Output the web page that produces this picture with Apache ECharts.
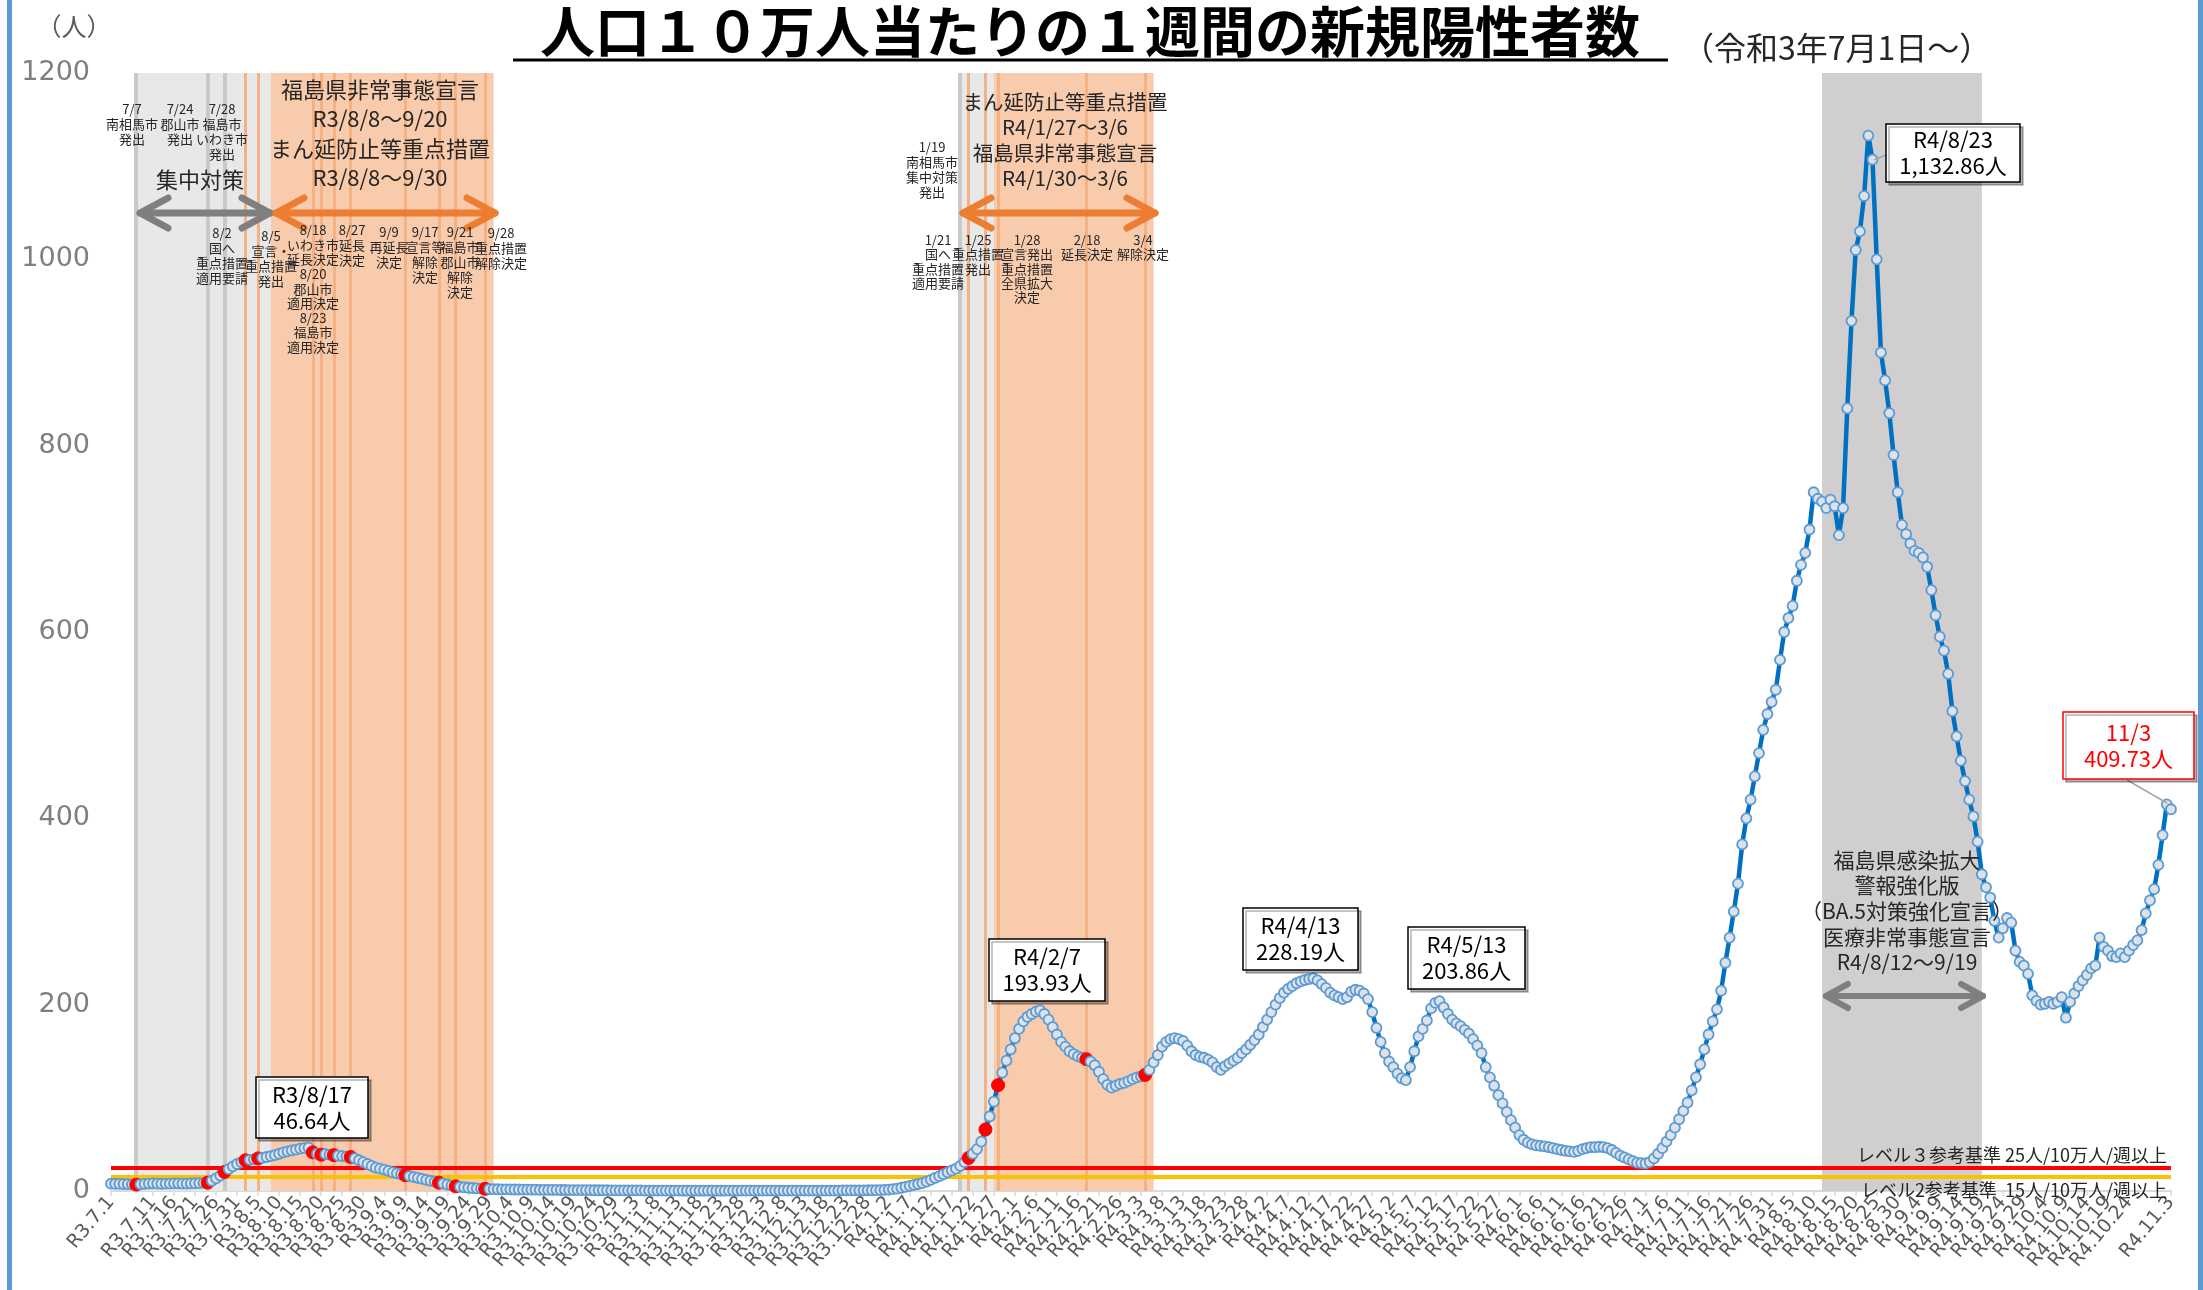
<!DOCTYPE html>
<html>
<head>
<meta charset="utf-8">
<script src="https://cdn.jsdelivr.net/npm/echarts@6/dist/echarts.min.js"></script>
<style>
html,body{margin:0;padding:0;background:#fff}
#main{width:2203px;height:1290px}
</style>
</head>
<body>
<div id="main"></div>
<script>
// 1週間の人口10万人当たり新規陽性者数（日別）
var v2107 = [7.9,7.8,7.6,7.5,7.3,7.1,6.9,7.2,7.6,8.0,8.1,8.0,7.8,7.9,8.0,8.2,8.1,8.0,7.9,8.1,8.3,8.5,8.8,9.0,11.0,13.5,16.5,20.4,23.5,26.5,29.0];
var v2108 = [31.0,33.0,33.5,34.0,35.0,35.5,36.5,37.5,38.5,40.0,41.5,42.5,43.5,44.5,45.5,46.0,46.64,41.5,40.0,39.0,39.5,39.0,38.5,38.0,37.5,37.0,36.5,35.0,33.0,31.0,29.0];
var v2109 = [27,25,24,23,21.5,20,19,18,17,16,15,14,13,12,11,10,9,8,7,6,5,4.5,4,3.5,3.2,2.9,2.6,2.3,2.1,2.0];
var v2110 = [1.9,1.8,1.8,1.7,1.6,1.6,1.5,1.5,1.4,1.4,1.3,1.3,1.2,1.2,1.2,1.1,1.1,1.0,1.0,1.0,0.9,0.9,0.9,0.8,0.8,0.8,0.8,0.7,0.7,0.7,0.7];
var v2111 = [0.7,0.6,0.6,0.6,0.5,0.5,0.5,0.5,0.4,0.4,0.4,0.4,0.4,0.3,0.3,0.3,0.3,0.3,0.3,0.3,0.3,0.3,0.3,0.3,0.4,0.4,0.4,0.4,0.4,0.4];
var v2112 = [0.4,0.4,0.4,0.5,0.5,0.5,0.5,0.5,0.5,0.5,0.4,0.4,0.4,0.4,0.4,0.4,0.5,0.5,0.5,0.5,0.5,0.6,0.6,0.6,0.6,0.7,0.7,0.8,0.8,0.9,1.0];
var v2201 = [1.2,1.5,2.0,2.5,3.5,4.5,5.5,6.5,7.5,8.5,10,12,14,16,18,20,22,24,27,31,35.5,40,45,53,66,80,96,113.6,127,140,152];
var v2202 = [164,174,182,187,190,192.5,193.93,190,184,176,168,160,155,150,147,144.5,143,141.5,139,135,128,120,114,111,113,115,116,118];
var v2203 = [120,122,123,124.6,130,138,146,155,160,163,164,163,161,156,150,146,144,143,141,138,133,130,134,137,140,143,148,152,157,162,168];
var v2204 = [176,184,192,200,207,213,217,220,223,225,226.5,227.5,228.19,226,222,218,213,210,208,206,208,214,216,215,212,206,192,175,160,148];
var v2205 = [139,133,126,121,119,133,150,166,174,183,196,202,203.86,197,190,184,180,177,173,169,163,156,148,133,122,113,103,94,85,76,68];
var v2206 = [60,55,52,50,49,48.5,48,47,46,45,44,43,42.5,42,43,45,46,47,47,47.5,47,46,44,41,38,36,34,32,30.5,30];
var v2207 = [29.5,31,35,40,46,53,60,68,77,86,95,108,122,136,152,168,182,195,215,245,272,300,330,372,400,420,445,470,495,512,525];
var v2208 = [538,570,600,615,628,655,672,685,710,750,743,740,733,742,735,704,733,840,934,1010,1030,1068,1132.86,1107,1000,900,870,835,790,750,715];
var v2209 = [705,695,687,685,680,670,645,618,595,580,555,515,488,462,440,420,402,375,340,326,315,290,272,282,293,288,258,246,242,233];
var v2210 = [210,204,200,201,203,201,203,208,186,203,212,220,226,232,239,242,272,262,258,252,251,255,251,258,264,269,280,298,312,324,350];
var v2211 = [382,415,409.73];

var months = [
  ['R3',7,v2107],['R3',8,v2108],['R3',9,v2109],['R3',10,v2110],['R3',11,v2111],['R3',12,v2112],
  ['R4',1,v2201],['R4',2,v2202],['R4',3,v2203],['R4',4,v2204],['R4',5,v2205],['R4',6,v2206],
  ['R4',7,v2207],['R4',8,v2208],['R4',9,v2209],['R4',10,v2210],['R4',11,v2211]
];

// 対策の発出・決定日（赤い点）
var eventDays = ['R3.7.7','R3.7.24','R3.7.28','R3.8.2','R3.8.5','R3.8.18','R3.8.20','R3.8.23','R3.8.27',
  'R3.9.9','R3.9.17','R3.9.21','R3.9.28','R4.1.21','R4.1.25','R4.1.28','R4.2.18','R4.3.4'];
var grayLines = ['R3.7.7','R3.7.24','R3.7.28','R4.1.19'];
var orangeLines = ['R3.8.2','R3.8.5','R3.8.18','R3.8.20','R3.8.23','R3.8.27','R3.9.9','R3.9.17','R3.9.21','R3.9.28',
  'R4.1.21','R4.1.25','R4.1.28','R4.2.18','R4.3.4'];
var bands = [
  ['R3.7.7','R3.8.8','#e8e8e8'],
  ['R3.8.8','R3.9.30','#f8cbad'],
  ['R4.1.19','R4.1.27','#e8e8e8'],
  ['R4.1.27','R4.3.6','#f8cbad'],
  ['R4.8.12','R4.9.19','#d0cece']
];

var cats = [], vals = [];
months.forEach(function(m){
  for (var d = 1; d <= m[2].length; d++) {
    cats.push(m[0] + '.' + m[1] + '.' + d);
    vals.push(m[2][d-1]);
  }
});

var lineData = cats.map(function(c, i){
  if (eventDays.indexOf(c) >= 0) {
    return {value: vals[i], symbolSize: 13, itemStyle: {color: '#ff0000', borderColor: '#ff0000', borderWidth: 1}};
  }
  return vals[i];
});

var JP = '"Noto Sans CJK JP", sans-serif';

function txt(x, y, s, size, lh, color, weight) {
  return {
    type: 'text', x: x, y: y, z: 100, silent: true,
    style: {
      text: s, fill: color || '#262626', fontSize: size, fontFamily: JP, fontWeight: weight || 'normal',
      lineHeight: lh, align: 'center', textAlign: 'center', verticalAlign: 'top', textVerticalAlign: 'top'
    }
  };
}
function arrow(x1, x2, y, color, lw, dx, dy) {
  var st = {stroke: color, lineWidth: lw, lineCap: 'round', lineJoin: 'round', fill: null};
  return {
    type: 'group', z: 100, silent: true,
    children: [
      {type: 'polyline', z: 100, shape: {points: [[x1, y], [x2, y]]}, style: st},
      {type: 'polyline', z: 100, shape: {points: [[x1 + dx, y - dy], [x1, y], [x1 + dx, y + dy]]}, style: st},
      {type: 'polyline', z: 100, shape: {points: [[x2 - dx, y - dy], [x2, y], [x2 - dx, y + dy]]}, style: st}
    ]
  };
}
function box(x, y, w, h, s, color) {
  color = color || '#000';
  return {
    type: 'group', z: 110, silent: true,
    children: [
      {type: 'rect', z: 110, shape: {x: x, y: y, width: w, height: h},
        style: {fill: '#fff', stroke: color, lineWidth: 1.5, shadowBlur: 0, shadowOffsetX: 3, shadowOffsetY: 3, shadowColor: 'rgba(0,0,0,0.3)'}},
      {type: 'text', z: 111, x: x + w / 2, y: y + h / 2,
        style: {text: s, fill: color, fontSize: 22, fontFamily: JP, lineHeight: 26,
          align: 'center', textAlign: 'center', verticalAlign: 'middle', textVerticalAlign: 'middle'}}
    ]
  };
}

var chart = echarts.init(document.getElementById('main'));
var option = {
  animation: false,
  backgroundColor: '#fff',
  grid: {left: 111, right: 32, top: 73, bottom: 99, outerBoundsMode: 'none'},
  xAxis: {
    type: 'category',
    data: cats,
    boundaryGap: false,
    axisLine: {lineStyle: {color: '#d9d9d9', width: 2}},
    axisTick: {show: true, interval: 4, length: 5, lineStyle: {color: '#d9d9d9', width: 1.5}},
    axisLabel: {interval: 4, rotate: 50, fontSize: 19, color: '#595959', fontFamily: 'DejaVu Sans', margin: 8,
      showMinLabel: true, showMaxLabel: true, hideOverlap: false}
  },
  yAxis: {
    type: 'value', min: 0, max: 1200, interval: 200,
    axisLine: {show: false}, axisTick: {show: false}, splitLine: {show: false},
    axisLabel: {fontSize: 27, color: '#7f7f7f', fontFamily: 'DejaVu Sans', margin: 21,
      formatter: function(v){ return String(v); }}
  },
  series: [
    {
      // 対策期間の帯と決定日の縦線
      type: 'line', data: [], z: 1, silent: true,
      markArea: {
        silent: true,
        data: bands.map(function(b){
          return [{xAxis: b[0], itemStyle: {color: b[2]}}, {xAxis: b[1]}];
        })
      },
      markLine: {
        silent: true, symbol: ['none', 'none'], label: {show: false},
        data: grayLines.map(function(d){
          return {xAxis: d, lineStyle: {color: '#c9c9c9', width: 4, type: 'solid'}};
        }).concat(orangeLines.map(function(d){
          return {xAxis: d, lineStyle: {color: '#f4b183', width: 3, type: 'solid'}};
        }))
      }
    },
    {
      // 参考基準線
      type: 'line', data: [], z: 3, silent: true,
      markLine: {
        silent: true, symbol: ['none', 'none'],
        data: [
          {yAxis: 25, lineStyle: {color: '#ff0000', width: 4, type: 'solid'},
            label: {show: true, position: 'insideEndTop', formatter: 'レベル３参考基準 25人/10万人/週以上',
              fontSize: 18, color: '#262626', fontFamily: JP, distance: 4}},
          {yAxis: 15, lineStyle: {color: '#ffc000', width: 4, type: 'solid'},
            label: {show: true, position: 'insideEndBottom', formatter: 'レベル2参考基準  15人/10万人/週以上',
              fontSize: 18, color: '#262626', fontFamily: JP, distance: 4}}
        ]
      }
    },
    {
      name: '新規陽性者数',
      type: 'line',
      data: lineData,
      z: 5,
      showAllSymbol: true,
      symbol: 'circle',
      symbolSize: 10,
      lineStyle: {color: '#0070c0', width: 4.5},
      itemStyle: {color: '#dde2e8', borderColor: '#5b9bd5', borderWidth: 1.8}
    }
  ],
  graphic: [
    {type: 'rect', z: 120, silent: true, shape: {x: 7, y: 0, width: 5, height: 1290}, style: {fill: '#5b9bd5'}},
    {type: 'rect', z: 120, silent: true, shape: {x: 2198, y: 0, width: 5, height: 1290}, style: {fill: '#5b9bd5'}},
    // タイトル
    {type: 'text', x: 1090, y: 31, z: 100, style: {text: '人口１０万人当たりの１週間の新規陽性者数', fill: '#000',
      fontSize: 55, fontWeight: 'bold', fontFamily: JP, align: 'center', textAlign: 'center', verticalAlign: 'middle', textVerticalAlign: 'middle'}},
    {type: 'line', z: 100, shape: {x1: 513, y1: 60, x2: 1668, y2: 60}, style: {stroke: '#000', lineWidth: 3}},
    {type: 'text', x: 1682, y: 48, z: 100, style: {text: '（令和3年7月1日～）', fill: '#262626',
      fontSize: 32, fontFamily: JP, align: 'left', textAlign: 'left', verticalAlign: 'middle', textVerticalAlign: 'middle'}},
    {type: 'text', x: 74, y: 26, z: 100, style: {text: '（人）', fill: '#595959',
      fontSize: 25, fontFamily: JP, align: 'center', textAlign: 'center', verticalAlign: 'middle', textVerticalAlign: 'middle'}},

    // 第1期（R3夏）
    txt(132, 102, '7/7\n南相馬市\n発出', 13, 15),
    txt(180, 102, '7/24\n郡山市\n発出', 13, 15),
    txt(222, 102, '7/28\n福島市\nいわき市\n発出', 13, 15),
    txt(200, 167, '集中対策', 22, 26),
    txt(380, 75, '福島県非常事態宣言\nR3/8/8～9/20\nまん延防止等重点措置\nR3/8/8～9/30', 22, 29.3),
    arrow(140, 270, 213, '#7f7f7f', 7, 28, 15),
    arrow(276, 495, 213, '#ed7d31', 7, 28, 15),
    txt(222, 226, '8/2\n国へ\n重点措置\n適用要請', 13, 15),
    txt(271, 229, '8/5\n宣言・\n重点措置\n発出', 13, 15),
    txt(313, 223, '8/18\nいわき市\n延長決定\n8/20\n郡山市\n適用決定\n8/23\n福島市\n適用決定', 13, 14.6),
    txt(352, 223, '8/27\n延長\n決定', 13, 15),
    txt(389, 225, '9/9\n再延長\n決定', 13, 15),
    txt(425, 225, '9/17\n宣言等\n解除\n決定', 13, 15),
    txt(460, 225, '9/21\n福島市\n郡山市\n解除\n決定', 13, 15),
    txt(501, 226, '9/28\n重点措置\n解除決定', 13, 15),

    // 第2期（R4冬）
    txt(932, 140, '1/19\n南相馬市\n集中対策\n発出', 13, 15),
    txt(1065, 89, 'まん延防止等重点措置\nR4/1/27～3/6\n福島県非常事態宣言\nR4/1/30～3/6', 20.5, 25.5),
    arrow(963, 1155, 213, '#ed7d31', 7, 28, 15),
    txt(938, 233, '1/21\n国へ\n重点措置\n適用要請', 13, 14.3),
    txt(978, 233, '1/25\n重点措置\n発出', 13, 14.3),
    txt(1027, 233, '1/28\n宣言発出\n重点措置\n全県拡大\n決定', 13, 14.3),
    txt(1087, 233, '2/18\n延長決定', 13, 14.3),
    txt(1143, 233, '3/4\n解除決定', 13, 14.3),

    // 第3期（R4夏）
    txt(1907, 847, '福島県感染拡大\n警報強化版\n（BA.5対策強化宣言）\n医療非常事態宣言\nR4/8/12～9/19', 21, 25.6),
    arrow(1826, 1983, 996, '#7f7f7f', 6, 22, 12),

    // ピーク表示
    {type: 'line', z: 105, shape: {x1: 1886, y1: 155, x2: 1874, y2: 160}, style: {stroke: '#a6a6a6', lineWidth: 1.5}},
    {type: 'line', z: 105, shape: {x1: 2127, y1: 780, x2: 2167, y2: 803}, style: {stroke: '#a6a6a6', lineWidth: 1.5}},
    box(256, 1077, 112, 61, 'R3/8/17\n46.64人'),
    box(989, 939, 116, 62, 'R4/2/7\n193.93人'),
    box(1243, 908, 115, 62, 'R4/4/13\n228.19人'),
    box(1408, 927, 117, 62, 'R4/5/13\n203.86人'),
    box(1886, 124, 134, 58, 'R4/8/23\n1,132.86人'),
    box(2063, 712, 131, 67, '11/3\n409.73人', '#ff0000')
  ]
};
chart.setOption(option);
</script>
</body>
</html>
